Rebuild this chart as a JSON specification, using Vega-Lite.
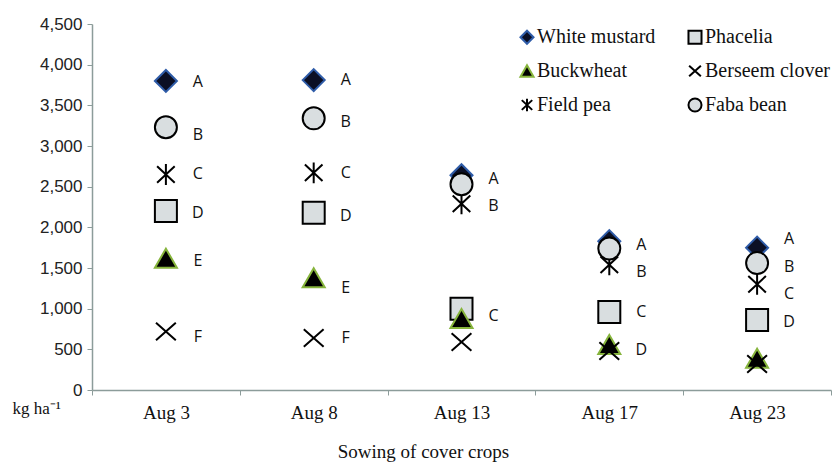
{
  "$schema": "https://vega.github.io/schema/vega-lite/v6.json",
  "width": 739,
  "height": 366,
  "autosize": {"type": "none"},
  "padding": {"left": 92, "top": 24, "right": 8, "bottom": 77},
  "background": "white",
  "config": {"view": {"stroke": null}},
  "datasets": {
    "points": [
      {"date": "Aug 3", "crop": "White mustard", "value": 3800},
      {"date": "Aug 8", "crop": "White mustard", "value": 3810},
      {"date": "Aug 13", "crop": "White mustard", "value": 2640},
      {"date": "Aug 17", "crop": "White mustard", "value": 1830},
      {"date": "Aug 23", "crop": "White mustard", "value": 1750},
      {"date": "Aug 3", "crop": "Phacelia", "value": 2200},
      {"date": "Aug 8", "crop": "Phacelia", "value": 2180},
      {"date": "Aug 13", "crop": "Phacelia", "value": 1000},
      {"date": "Aug 17", "crop": "Phacelia", "value": 960},
      {"date": "Aug 23", "crop": "Phacelia", "value": 860},
      {"date": "Aug 3", "crop": "Buckwheat", "value": 1620},
      {"date": "Aug 8", "crop": "Buckwheat", "value": 1380},
      {"date": "Aug 13", "crop": "Buckwheat", "value": 880},
      {"date": "Aug 17", "crop": "Buckwheat", "value": 560},
      {"date": "Aug 23", "crop": "Buckwheat", "value": 390},
      {"date": "Aug 3", "crop": "Berseem clover", "value": 720},
      {"date": "Aug 8", "crop": "Berseem clover", "value": 640},
      {"date": "Aug 13", "crop": "Berseem clover", "value": 590},
      {"date": "Aug 17", "crop": "Berseem clover", "value": 480},
      {"date": "Aug 23", "crop": "Berseem clover", "value": 320},
      {"date": "Aug 3", "crop": "Field pea", "value": 2650},
      {"date": "Aug 8", "crop": "Field pea", "value": 2670},
      {"date": "Aug 13", "crop": "Field pea", "value": 2290},
      {"date": "Aug 17", "crop": "Field pea", "value": 1540},
      {"date": "Aug 23", "crop": "Field pea", "value": 1300},
      {"date": "Aug 3", "crop": "Faba bean", "value": 3230},
      {"date": "Aug 8", "crop": "Faba bean", "value": 3340},
      {"date": "Aug 13", "crop": "Faba bean", "value": 2530},
      {"date": "Aug 17", "crop": "Faba bean", "value": 1740},
      {"date": "Aug 23", "crop": "Faba bean", "value": 1560}
    ],
    "labels": [
      {"date": "Aug 3", "letter": "A", "value": 3790},
      {"date": "Aug 3", "letter": "B", "value": 3135},
      {"date": "Aug 3", "letter": "C", "value": 2650},
      {"date": "Aug 3", "letter": "D", "value": 2175},
      {"date": "Aug 3", "letter": "E", "value": 1580},
      {"date": "Aug 3", "letter": "F", "value": 650},
      {"date": "Aug 8", "letter": "A", "value": 3810},
      {"date": "Aug 8", "letter": "B", "value": 3300},
      {"date": "Aug 8", "letter": "C", "value": 2670},
      {"date": "Aug 8", "letter": "D", "value": 2140},
      {"date": "Aug 8", "letter": "E", "value": 1250},
      {"date": "Aug 8", "letter": "F", "value": 635},
      {"date": "Aug 13", "letter": "A", "value": 2590},
      {"date": "Aug 13", "letter": "B", "value": 2260},
      {"date": "Aug 13", "letter": "C", "value": 915},
      {"date": "Aug 17", "letter": "A", "value": 1785},
      {"date": "Aug 17", "letter": "B", "value": 1455},
      {"date": "Aug 17", "letter": "C", "value": 965},
      {"date": "Aug 17", "letter": "D", "value": 490},
      {"date": "Aug 23", "letter": "A", "value": 1855},
      {"date": "Aug 23", "letter": "B", "value": 1515},
      {"date": "Aug 23", "letter": "C", "value": 1180},
      {"date": "Aug 23", "letter": "D", "value": 840}
    ]
  },
  "layer": [
    {
      "data": {"name": "points"},
      "mark": {"type": "point", "filled": false, "opacity": 1, "strokeWidth": 2, "size": 484},
      "encoding": {
        "x": {
          "field": "date", "type": "nominal",
          "sort": ["Aug 3", "Aug 8", "Aug 13", "Aug 17", "Aug 23"],
          "scale": {"type": "band", "paddingInner": 0, "paddingOuter": 0},
          "axis": {
            "title": "Sowing of cover crops",
            "titleFont": "Liberation Serif", "titleFontSize": 19, "titleFontWeight": "normal", "titleColor": "#111",
            "titleX": 331, "titleY": 61, "titleAlign": "center", "titleBaseline": "middle", "titleAnchor": null,
            "labelFont": "Liberation Serif", "labelFontSize": 19, "labelColor": "#111", "labelAngle": 0, "labelPadding": 8,
            "tickBand": "extent", "tickSize": 5, "tickColor": "#8c9c9a", "domainColor": "#8c9c9a", "domainWidth": 1.5, "grid": false
          }
        },
        "y": {
          "field": "value", "type": "quantitative",
          "scale": {"domain": [0, 4500], "nice": false},
          "axis": {
            "values": [0, 500, 1000, 1500, 2000, 2500, 3000, 3500, 4000, 4500],
            "format": ",.0f",
            "title": "kg ha⁻¹",
            "titleAngle": 0, "titleX": -80, "titleY": 384, "titleAlign": "left", "titleBaseline": "middle", "titleAnchor": null,
            "titleFont": "Liberation Serif", "titleFontSize": 17, "titleFontWeight": "normal", "titleColor": "#111",
            "labelFont": "Liberation Sans", "labelFontSize": 17, "labelColor": "#222", "labelPadding": 5,
            "tickSize": 5, "tickColor": "#8c9c9a", "domainColor": "#8c9c9a", "domainWidth": 1.5, "grid": false
          }
        },
        "shape": {
          "field": "crop", "type": "nominal",
          "scale": {
            "domain": ["White mustard", "Phacelia", "Buckwheat", "Berseem clover", "Field pea", "Faba bean"],
            "range": ["diamond", "square", "triangle-up", "M-0.9,-0.8L0.9,0.8M0.9,-0.8L-0.9,0.8", "M-0.8,-0.75L0.8,0.75M0.8,-0.75L-0.8,0.75M0,-0.95L0,0.95", "circle"]
          },
          "legend": {"title": null, "orient": "none", "direction": "horizontal", "legendX": 425, "legendY": 3, "columns": 2, "columnPadding": 28, "rowPadding": 13, "symbolSize": 170, "symbolStrokeWidth": 2, "labelFont": "Liberation Serif", "labelFontSize": 20, "labelColor": "#111", "labelOffset": 0}
        },
        "fill": {
          "field": "crop", "type": "nominal",
          "scale": {
            "domain": ["White mustard", "Phacelia", "Buckwheat", "Berseem clover", "Field pea", "Faba bean"],
            "range": ["#0b0f24", "#d9dee0", "#000000", "transparent", "transparent", "#d9dee0"]
          },
          "legend": {"title": null, "orient": "none", "direction": "horizontal", "legendX": 425, "legendY": 3, "columns": 2, "columnPadding": 28, "rowPadding": 13, "symbolSize": 170, "symbolStrokeWidth": 2, "labelFont": "Liberation Serif", "labelFontSize": 20, "labelColor": "#111", "labelOffset": 0}
        },
        "stroke": {
          "field": "crop", "type": "nominal",
          "scale": {
            "domain": ["White mustard", "Phacelia", "Buckwheat", "Berseem clover", "Field pea", "Faba bean"],
            "range": ["#2f5ca8", "#000000", "#86b43c", "#000000", "#000000", "#000000"]
          },
          "legend": {"title": null, "orient": "none", "direction": "horizontal", "legendX": 425, "legendY": 3, "columns": 2, "columnPadding": 28, "rowPadding": 13, "symbolSize": 170, "symbolStrokeWidth": 2, "labelFont": "Liberation Serif", "labelFontSize": 20, "labelColor": "#111", "labelOffset": 0}
        }
      }
    },
    {
      "data": {"name": "labels"},
      "mark": {"type": "text", "dx": 32, "align": "center", "baseline": "middle", "font": "Open Sans", "fontSize": 16, "color": "#111"},
      "encoding": {
        "x": {"field": "date", "type": "nominal", "sort": ["Aug 3", "Aug 8", "Aug 13", "Aug 17", "Aug 23"]},
        "y": {"field": "value", "type": "quantitative"},
        "text": {"field": "letter"}
      }
    }
  ]
}
